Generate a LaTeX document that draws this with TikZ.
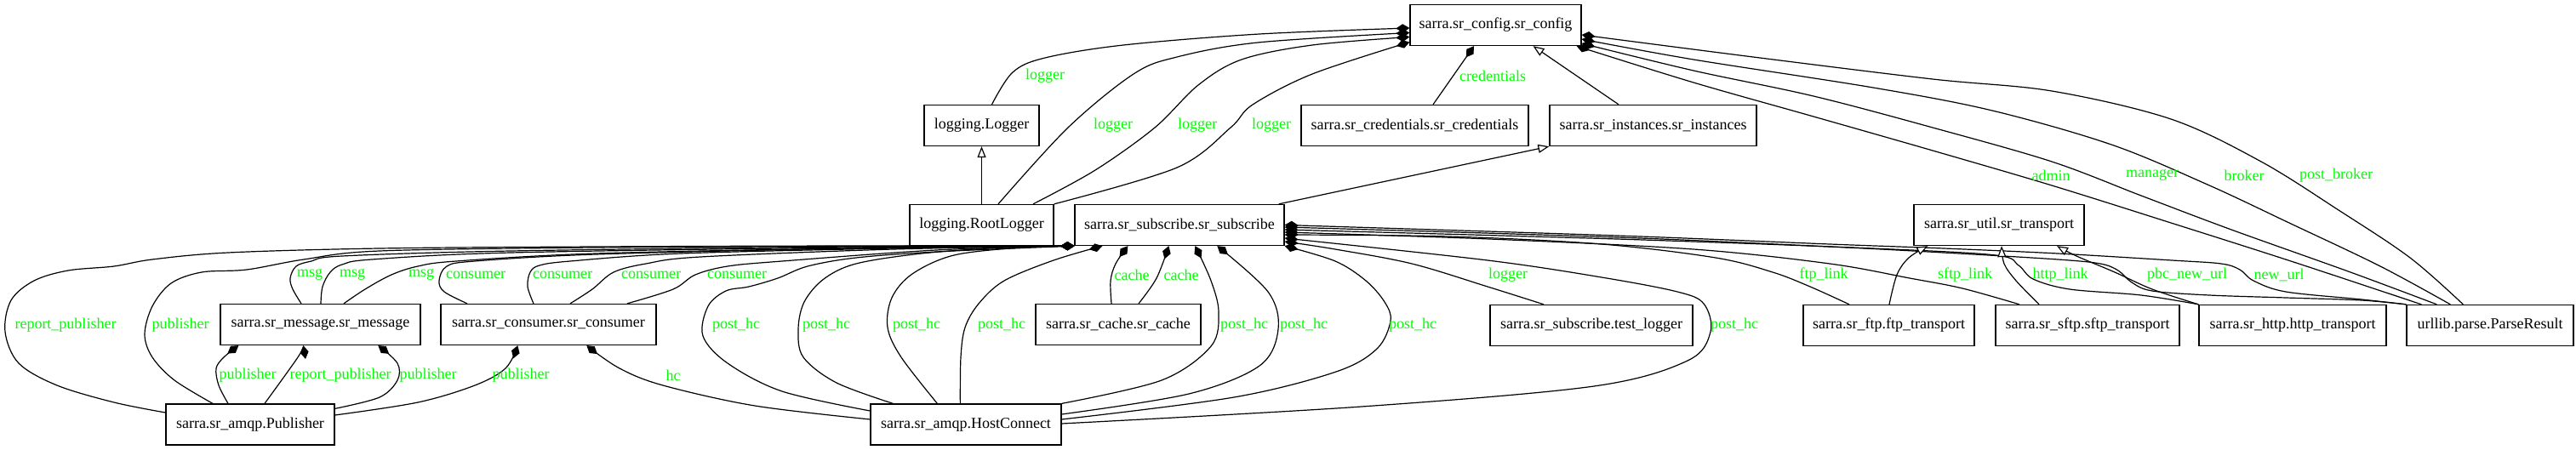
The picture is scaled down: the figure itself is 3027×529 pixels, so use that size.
\documentclass[tikz,border=0pt]{standalone}
\usepackage{fontspec}
\setmainfont{Liberation Serif}
\usetikzlibrary{arrows.meta,calc}
\definecolor{lblgreen}{RGB}{0,255,0}
\begin{document}
\begin{tikzpicture}[x=1pt,y=-1pt,
  cls/.style={draw=black, line width=1.3pt, rectangle, minimum height=48pt, inner sep=0pt, font=\fontsize{18}{20}\selectfont},
  edge/.style={line width=1.2pt, draw=black},
  comp/.style={edge, -{Diamond[length=16pt,width=10pt]}},
  inh/.style={edge, -{Triangle[open,length=13pt,width=10pt,fill=white]}},
  lbl/.style={text=lblgreen, font=\fontsize{18}{20}\selectfont, inner sep=0pt},
  sm/.style={smooth, tension=0.55}
]
\fill[white] (0,0) rectangle (3027,529);
\useasboundingbox (0,0) rectangle (3027,529);

% classes
\node[cls, minimum width=201pt] (cfg) at (1757.5,29.5) {sarra.sr\_config.sr\_config};
\node[cls, minimum width=135pt] (lg) at (1153.5,147.5) {logging.Logger};
\node[cls, minimum width=267pt] (cred) at (1662.5,147.5) {sarra.sr\_credentials.sr\_credentials};
\node[cls, minimum width=243pt] (inst) at (1942.5,147.5) {sarra.sr\_instances.sr\_instances};
\node[cls, minimum width=169pt] (root) at (1153.5,264.5) {logging.RootLogger};
\node[cls, minimum width=246pt] (sub) at (1386,264.5) {sarra.sr\_subscribe.sr\_subscribe};
\node[cls, minimum width=200pt] (trans) at (2349,264.5) {sarra.sr\_util.sr\_transport};
\node[cls, minimum width=235pt] (msg) at (376.5,381.5) {sarra.sr\_message.sr\_message};
\node[cls, minimum width=253pt] (cons) at (644.5,381.5) {sarra.sr\_consumer.sr\_consumer};
\node[cls, minimum width=194pt] (cache) at (1314,381.5) {sarra.sr\_cache.sr\_cache};
\node[cls, minimum width=238pt] (tlog) at (1870,382.5) {sarra.sr\_subscribe.test\_logger};
\node[cls, minimum width=201pt] (ftp) at (2219.5,382.5) {sarra.sr\_ftp.ftp\_transport};
\node[cls, minimum width=216pt] (sftp) at (2453,382.5) {sarra.sr\_sftp.sftp\_transport};
\node[cls, minimum width=220pt] (http) at (2694,382.5) {sarra.sr\_http.http\_transport};
\node[cls, minimum width=196pt] (parse) at (2926,382.5) {urllib.parse.ParseResult};
\node[cls, minimum width=198pt] (pub) at (294,499) {sarra.sr\_amqp.Publisher};
\node[cls, minimum width=224pt] (hc) at (1135,499) {sarra.sr\_amqp.HostConnect};

% ---- edges to sr_config
\draw[comp] plot[sm] coordinates {($(lg.north)+(12,0)$) (1190,85) (1228,68) (1320,53) (1480,40) ($(cfg.west)+(0,3.5)$)};
\draw[comp] plot[sm] coordinates {($(root.north)+(19.5,0)$) (1255,150) (1332,87) (1383,67) (1478,50) ($(cfg.west)+(0,9)$)};
\draw[comp] plot[sm] coordinates {($(root.north)+(60.5,0)$) (1287,200) (1357,150) (1408,100) (1459,70) (1542,53) ($(cfg.west)+(0,14)$)};
\draw[comp] plot[sm] coordinates {(root.north east) (1383,197) (1446,150) (1472,123) (1542,87) ($(cfg.west)+(0,20)$)};
\draw[comp] ($(cred.north)+(21.5,0)$) -- ($(cfg.south)+(-25.5,0)$);
\draw[inh] ($(inst.north)+(-40.5,0)$) -- ($(cfg.south)+(44,0)$);
\draw[inh] (root.north) -- (lg.south);
\draw[inh] ($(sub.north east)+(-7,0)$) -- (inst.south west);

\draw[comp] plot[sm] coordinates {($(parse.north west)+(18,0)$) (2692,307) (2551,262) (2411,218) (2271,177) (2131,137) (1990,97) ($(cfg.south east)+(-6,0)$)};
\draw[comp] plot[sm] coordinates {($(parse.north west)+(36,0)$) (2762,320) (2622,270) (2516,230) (2411,190) (2271,150) (2131,113) (1990,83) ($(cfg.east)+(0,21.5)$)};
\draw[comp] plot[sm] coordinates {($(parse.north west)+(52,0)$) (2797,313) (2692,263) (2594,217) (2481,170) (2341,130) (2201,103) (1990,70) ($(cfg.east)+(0,16.5)$)};
\draw[comp] plot[sm] coordinates {($(parse.north west)+(67,0)$) (2832,303) (2748,247) (2657,190) (2551,140) (2411,107) (2271,93) (2060,67) ($(cfg.east)+(0,11.5)$)};

% ---- left bundle to sr_subscribe
\draw[comp] plot[sm] coordinates {($(pub.west)+(0,-14)$) (134,473) (67,453) (22,427) (6,390) (13,353) (40,330) (80,318) (134,313) (179,305) (268,297) (446,292) (700,290) (1000,289) (sub.south west)};
\draw[comp] plot[sm] coordinates {($(pub.north)+(-44,0)$) (205,447) (179,420) (170,393) (179,360) (201,333) (237,320) (290,317) (357,305) (446,295) (700,291) (1000,289.5) (sub.south west)};
\draw[comp] plot[sm] coordinates {($(msg.north)+(-22.5,0)$) (344,340) (341,327) (348,313) (366,307) (402,301) (600,295) (1000,290) (sub.south west)};
\draw[comp] plot[sm] coordinates {($(msg.north)+(0.5,0)$) (379,337) (388,320) (402,311) (437,305) (600,297) (1000,291) (sub.south west)};
\draw[comp] plot[sm] coordinates {($(msg.north)+(27.5,0)$) (429,340) (460,323) (491,313) (536,307) (700,298) (1000,292) (sub.south west)};
\draw[comp] plot[sm] coordinates {($(cons.north)+(-95.5,0)$) (522,343) (516,330) (525,313) (558,307) (700,299) (1000,292) (sub.south west)};
\draw[comp] plot[sm] coordinates {($(cons.north)+(-17.5,0)$) (620,337) (623,320) (634,312) (670,307) (800,298) (1050,292) (sub.south west)};
\draw[comp] plot[sm] coordinates {($(cons.north)+(25.5,0)$) (696,340) (721,320) (759,310) (823,302) (1050,293) (sub.south west)};
\draw[comp] plot[sm] coordinates {($(cons.north)+(92.5,0)$) (791,340) (817,323) (855,313) (919,307) (1100,294) (sub.south west)};

% ---- post_hc edges
\draw[comp] plot[sm] coordinates {($(hc.west)+(0,-16)$) (919,460) (855,427) (826,395) (832,360) (853,342) (880,337) (914,327) (949,313) (1006,303) (1100,296) (sub.south west)};
\draw[comp] plot[sm] coordinates {($(hc.north west)+(27,0)$) (983,450) (944,420) (938,387) (945,355) (968,328) (1006,310) (1083,298) (1180,291) (sub.south west)};
\draw[comp] plot[sm] coordinates {($(hc.north west)+(79,0)$) (1059,420) (1043,385) (1048,350) (1072,322) (1121,300) (1200,291) (sub.south west)};
\draw[comp] plot[sm] coordinates {($(hc.north west)+(106,0)$) (1129,420) (1134,385) (1150,357) (1180,330) (1238,306) ($(sub.south west)+(33,0)$)};
\draw[comp] plot[sm] coordinates {(hc.north east) (1365,447) (1423,407) (1432,367) (1423,330) ($(sub.south west)+(142,0)$)};
\draw[comp] plot[sm] coordinates {($(hc.east)+(0,-12)$) (1397,463) (1480,430) (1502,387) (1490,343) ($(sub.south west)+(168,0)$)};
\draw[comp] plot[sm] coordinates {($(hc.east)+(0,-6)$) (1450,467) (1570,437) (1618,410) (1634,377) (1627,355) (1605,330) (1569,307) (sub.south east)};
\draw[comp] plot[sm] coordinates {($(hc.east)+(0,-1)$) (1600,478) (1873,454) (1983,424) (2010,390) (2002,357) (1971,343) (1882,326) (1748,306) ($(sub.east)+(0,15.5)$)};

% ---- right side edges to sr_subscribe
\draw[comp] plot[sm] coordinates {($(tlog.north)+(-56,0)$) (1748,337) (1659,310) (1569,293) ($(sub.east)+(0,19.5)$)};
\draw[comp] plot[sm] coordinates {($(ftp.north)+(-46.5,0)$) (2127,337) (2083,320) (2016,303) (1882,287) (1703,278) ($(sub.east)+(0,11.5)$)};
\draw[comp] plot[sm] coordinates {($(sftp.north)+(-80,0)$) (2306,339) (2244,327) (2150,310) (1990,293) (1750,281) ($(sub.east)+(0,8.5)$)};
\draw[comp] plot[sm] coordinates {(http.north west) (2516,347) (2432,340) (2389,328) (2372,312) (2345,300) (2200,292) (1900,281) ($(sub.east)+(0,5.5)$)};
\draw[comp] plot[sm] coordinates {(parse.north west) (2775,353) (2686,350) (2596,347) (2529,342) (2505,332) (2489,318) (2468,310) (2418,305) (2284,297) (2150,290) (1900,279) ($(sub.east)+(0,2.5)$)};
\draw[comp] plot[sm] coordinates {(parse.north west) (2775,352) (2686,343) (2648,330) (2632,317) (2610,310) (2552,306) (2418,298) (2284,292) (2150,287) (1900,277) (sub.east)};

% ---- inheritance to sr_transport
\draw[inh] plot[sm] coordinates {($(ftp.north)+(0.5,0)$) (2229,323) (2243,303) ($(trans.south west)+(17,0)$)};
\draw[inh] plot[sm] coordinates {($(sftp.north)+(-57,0)$) (2369,330) (2355,310) ($(trans.south)+(3,0)$)};
\draw[inh] plot[sm] coordinates {(http.north west) (2529,340) (2485,320) (2440,301) ($(trans.south)+(68,0)$)};

% ---- publisher / host connect / cache
\draw[comp] plot[sm] coordinates {($(pub.north)+(-26,0)$) (257,453) (254,433) (263,420) ($(msg.south west)+(22,0)$)};
\draw[comp] plot[sm] coordinates {($(pub.north)+(17,0)$) (350,420) ($(msg.south west)+(98,0)$)};
\draw[comp] plot[sm] coordinates {($(pub.north east)+(0,6)$) (446,467) (467,447) (467,427) ($(msg.south west)+(186,0)$)};
\draw[comp] plot[sm] coordinates {($(pub.east)+(0,-11)$) (491,473) (558,453) (594,433) ($(cons.south west)+(91,0)$)};
\draw[comp] plot[sm] coordinates {($(hc.west)+(0,-6)$) (887,477) (779,453) (728,433) ($(cons.south west)+(172,0)$)};
\draw[comp] plot[sm] coordinates {($(cache.north)+(-8,0)$) (1305,330) (1311,310) ($(sub.south west)+(63,0)$)};
\draw[comp] plot[sm] coordinates {($(cache.north)+(24,0)$) (1359,327) ($(sub.south west)+(111,0)$)};

% ---- labels
\node[lbl] (t1) at (1228,89) {logger};
\node[lbl] (t2) at (1308,147) {logger};
\node[lbl] (t3) at (1407,147) {logger};
\node[lbl] (t4) at (1494,147) {logger};
\node[lbl] (t5) at (1754,89) {credentials};
\node[lbl] (t6) at (2410,206) {admin};
\node[lbl] (t7) at (2529,206) {manager};
\node[lbl] (t8) at (2637,206) {broker};
\node[lbl] (t9) at (2745,206) {post\_broker};
\node[lbl] (t10) at (364,323) {msg};
\node[lbl] (t11) at (414,323) {msg};
\node[lbl] (t12) at (495,323) {msg};
\node[lbl] (t13) at (559,323) {consumer};
\node[lbl] (t14) at (661,323) {consumer};
\node[lbl] (t15) at (765,323) {consumer};
\node[lbl] (t16) at (866,323) {consumer};
\node[lbl] (t17) at (77,382) {report\_publisher};
\node[lbl] (t18) at (212,382) {publisher};
\node[lbl] (t19) at (865,382) {post\_hc};
\node[lbl] (t20) at (971,382) {post\_hc};
\node[lbl] (t21) at (1077,382) {post\_hc};
\node[lbl] (t22) at (1177,382) {post\_hc};
\node[lbl] (t23) at (1462,382) {post\_hc};
\node[lbl] (t24) at (1532,382) {post\_hc};
\node[lbl] (t25) at (1660,382) {post\_hc};
\node[lbl] (t26) at (2038,382) {post\_hc};
\node[lbl] (t27) at (291,441) {publisher};
\node[lbl] (t28) at (400,441) {report\_publisher};
\node[lbl] (t29) at (503,441) {publisher};
\node[lbl] (t30) at (612,441) {publisher};
\node[lbl] (t31) at (791,441) {hc};
\node[lbl] (t32) at (1330,323) {cache};
\node[lbl] (t33) at (1388,323) {cache};
\node[lbl] (t34) at (1772,323) {logger};
\node[lbl] (t35) at (2143,323) {ftp\_link};
\node[lbl] (t36) at (2309,323) {sftp\_link};
\node[lbl] (t37) at (2421,323) {http\_link};
\node[lbl] (t38) at (2570,323) {pbc\_new\_url};
\node[lbl] (t39) at (2678,323) {new\_url};
\end{tikzpicture}
\end{document}
